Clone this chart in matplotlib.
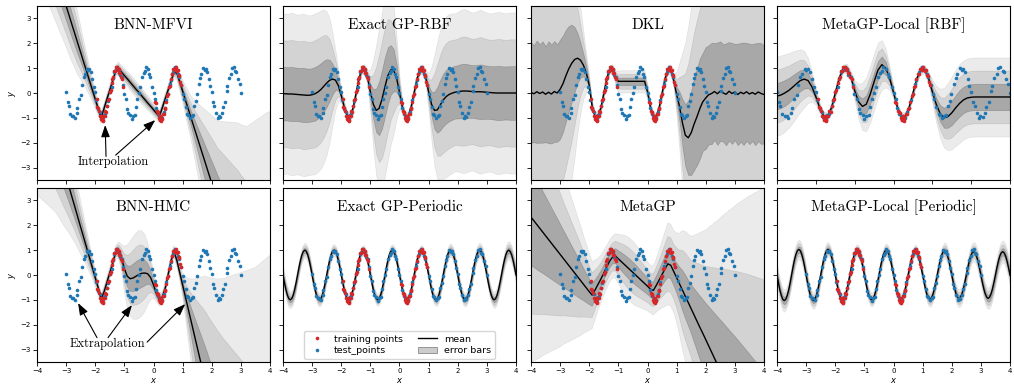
import numpy as np
import matplotlib
matplotlib.use('Agg')
import matplotlib.pyplot as plt
from matplotlib.lines import Line2D
from matplotlib.patches import Patch


train_x = [-1.95, -1.93, -1.89, -1.86, -1.84, -1.80, -1.77, -1.74, -1.72, -1.68,
           -1.65, -1.62, -1.59, -1.57, -1.53, -1.50, -1.47, -1.44, -1.41, -1.38,
           -1.35, -1.32, -1.29, -1.26, -1.23, -1.20, -1.17, -1.14, -1.11, -1.08,
           -1.05, -1.78, -1.76, -1.73,
           0.05, 0.07, 0.11, 0.14, 0.16, 0.20, 0.23, 0.26, 0.28, 0.32,
           0.35, 0.38, 0.41, 0.43, 0.47, 0.50, 0.53, 0.56, 0.59, 0.62,
           0.65, 0.68, 0.71, 0.74, 0.77, 0.80, 0.83, 0.86, 0.89, 0.92,
           0.95, 0.22, 0.24, 0.27]
train_y = [-0.26, -0.56, -0.61, -0.71, -0.92, -1.04, -0.92, -1.12, -0.93, -0.93,
           -0.73, -0.75, -0.53, -0.30, -0.24, 0.03, 0.12, 0.42, 0.56, 0.65,
           0.87, 0.88, 1.05, 1.04, 0.93, 0.97, 0.80, 0.82, 0.63, 0.55,
           0.26, -1.08, -0.95, -1.10,
           -0.35, -0.42, -0.71, -0.75, -0.80, -1.00, -1.09, -0.96, -1.05, -0.84,
           -0.84, -0.64, -0.60, -0.35, -0.11, -0.04, 0.24, 0.30, 0.57, 0.75,
           0.76, 0.98, 0.95, 0.94, 1.04, 0.87, 0.92, 0.74, 0.70, 0.43,
           0.33, -1.07, -0.93, -1.12]

test_x = [-3.00, -2.94, -2.91, -2.86, -2.79, -2.75, -2.71, -2.64, -2.61, -2.55,
          -2.49, -2.46, -2.40, -2.36, -2.29, -2.25, -2.21, -2.14, -2.11, -2.04,
          -2.00, -1.96, -1.89, -1.85, -1.81, -1.74, -1.70, -1.66, -1.59, -1.55,
          -1.51, -1.44, -1.40, -1.36, -1.29, -1.25, -1.19, -1.16, -1.09, -1.05,
          -1.01, -0.94, -0.90, -0.86, -0.79, -0.75, -0.71, -0.64, -0.60, -0.56,
          -0.49, -0.45, -0.41, -0.34, -0.30, -0.26, -0.19, -0.15, -0.11, -0.04,
          0.00, 0.06, 0.09, 0.15, 0.21, 0.25, 0.29, 0.36, 0.40, 0.44,
          0.51, 0.55, 0.59, 0.66, 0.70, 0.74, 0.81, 0.85, 0.89, 0.96,
          1.01, 1.04, 1.10, 1.16, 1.19, 1.25, 1.31, 1.34, 1.40, 1.46,
          1.49, 1.55, 1.61, 1.64, 1.70, 1.76, 1.79, 1.85, 1.91, 1.94,
          2.00, 2.06, 2.09, 2.15, 2.21, 2.24, 2.30, 2.36, 2.39, 2.45,
          2.51, 2.54, 2.60, 2.66, 2.69, 2.75, 2.81, 2.84, 2.90, 2.96,
          3.00]
test_y = [0.03, -0.36, -0.53, -0.83, -0.91, -0.93, -1.01, -0.80, -0.62, -0.26,
          -0.07, 0.33, 0.65, 0.77, 0.95, 0.94, 0.98, 0.86, 0.57, 0.26,
          0.04, -0.30, -0.66, -0.75, -0.98, -0.98, -0.90, -0.86, -0.52, -0.32,
          0.03, 0.25, 0.59, 0.85, 0.91, 1.06, 0.93, 0.74, 0.64, 0.33,
          -0.03, -0.25, -0.64, -0.80, -0.88, -1.04, -0.92, -0.87, -0.57, -0.26,
          -0.01, 0.26, 0.65, 0.81, 0.88, 1.04, 0.97, 0.78, 0.64, 0.25,
          0.01, -0.24, -0.61, -0.86, -0.91, -0.97, -1.01, -0.75, -0.60, -0.29,
          -0.04, 0.36, 0.52, 0.84, 0.95, 1.06, 0.92, 0.76, 0.63, 0.32,
          -0.06, -0.26, -0.57, -0.85, -0.88, -1.02, -0.92, -0.88, -0.53, -0.31,
          -0.05, 0.35, 0.60, 0.78, 1.01, 0.94, 0.97, 0.86, 0.58, 0.27,
          0.03, -0.38, -0.54, -0.79, -1.00, -0.94, -0.98, -0.81, -0.55, -0.37,
          0.07, 0.29, 0.60, 0.77, 1.00, 1.03, 0.89, 0.83, 0.58, 0.37,
          0.00]

grid = np.linspace(-4, 4, 81)
grid_local = np.linspace(-3, 3, 61)
grid_fine = np.linspace(-4, 4, 161)

mfvi_mean = [7.25, 6.88, 6.5, 6.13, 5.75, 5.38, 5.0, 4.63, 4.25, 3.88,
             3.5, 3.13, 2.75, 2.38, 2.0, 1.63, 1.25, 0.88, 0.5, 0.13,
             -0.25, -0.63, -1.0, -0.63, -0.25, 0.12, 0.49, 0.87, 0.98, 0.84,
             0.7, 0.57, 0.43, 0.29, 0.15, 0.02, -0.12, -0.26, -0.4, -0.53,
             -0.67, -0.81, -0.95, -0.6, -0.24, 0.11, 0.47, 0.82, 0.82, 0.45,
             0.08, -0.3, -0.67, -1.04, -1.41, -1.78, -2.15, -2.52, -2.89, -3.26,
             -3.63, -4.0, -4.37, -4.74, -5.11, -5.48, -5.85, -6.22, -6.59, -6.96,
             -7.33, -7.7, -8.07, -8.44, -8.81, -9.18, -9.55, -9.92, -10.29, -10.66,
             -11.03]
mfvi_sd = [0.85, 0.82, 0.79, 0.76, 0.73, 0.7, 0.67, 0.64, 0.61, 0.58,
           0.55, 0.53, 0.5, 0.46, 0.42, 0.36, 0.3, 0.25, 0.2, 0.16,
           0.12, 0.09, 0.08, 0.07, 0.07, 0.07, 0.07, 0.08, 0.09, 0.09,
           0.1, 0.1, 0.11, 0.11, 0.11, 0.11, 0.11, 0.1, 0.1, 0.09,
           0.09, 0.08, 0.08, 0.07, 0.07, 0.07, 0.07, 0.08, 0.1, 0.12,
           0.15, 0.2, 0.25, 0.3, 0.38, 0.46, 0.55, 0.64, 0.73, 0.82,
           0.91, 1.0, 1.08, 1.2, 1.32, 1.44, 1.56, 1.68, 1.8, 1.92,
           2.02, 2.13, 2.24, 2.39, 2.54, 2.69, 2.84, 2.99, 3.14, 3.29,
           3.43]

rbf_mean = [-0.03, -0.03, -0.04, -0.04, -0.05, -0.06, -0.07, -0.08, -0.09, -0.09,
            -0.07, -0.03, 0.04, 0.14, 0.27, 0.4, 0.51, 0.56, 0.52, 0.3,
            -0.1, -0.56, -0.9, -0.97, -0.62, -0.05, 0.55, 0.93, 0.95, 0.62,
            0.05, -0.45, -0.7, -0.62, -0.25, 0.25, 0.7, 0.93, 0.92, 0.6,
            0.02, -0.58, -0.95, -0.92, -0.55, 0.02, 0.58, 0.93, 0.95, 0.62,
            0.05, -0.45, -0.7, -0.68, -0.48, -0.28, -0.15, -0.06, -0.01, 0.03,
            0.05, 0.07, 0.08, 0.08, 0.07, 0.06, 0.05, 0.05, 0.05, 0.04,
            0.03, 0.02, 0.01, 0.0, 0.0, 0.0, 0.0, 0.0, 0.0, 0.0,
            0.0]
rbf_sd = [1.08, 1.07, 1.08, 1.09, 1.08, 1.07, 1.08, 1.09, 1.08, 1.07,
          1.07, 1.08, 1.07, 1.06, 1.03, 0.96, 0.83, 0.62, 0.4, 0.21,
          0.1, 0.07, 0.06, 0.06, 0.06, 0.06, 0.06, 0.06, 0.07, 0.1,
          0.3, 0.6, 0.88, 1.08, 1.18, 1.2, 1.14, 1.0, 0.85, 0.55,
          0.22, 0.08, 0.06, 0.06, 0.06, 0.06, 0.06, 0.06, 0.07, 0.1,
          0.25, 0.5, 0.75, 0.92, 1.02, 1.06, 1.08, 1.08, 1.07, 1.06,
          1.07, 1.09, 1.1, 1.09, 1.07, 1.06, 1.07, 1.09, 1.1, 1.08,
          1.07, 1.06, 1.07, 1.08, 1.09, 1.08, 1.07, 1.07, 1.08, 1.08,
          1.08]

dkl_mean = [0.02, -0.03, 0.05, -0.02, 0.04, -0.05, 0.03, -0.04, 0.06, 0.0,
            0.15, 0.38, 0.7, 0.98, 1.2, 1.35, 1.4, 1.32, 1.12, 0.8,
            0.3, -0.55, -0.95, -0.95, -0.58, 0.0, 0.58, 0.95, 0.95, 0.62,
            0.47, 0.47, 0.47, 0.47, 0.47, 0.47, 0.47, 0.47, 0.47, 0.47,
            0.05, -0.58, -0.95, -0.95, -0.58, 0.0, 0.58, 0.95, 0.93, 0.5,
            -0.05, -0.55, -1.2, -1.7, -1.8, -1.6, -1.25, -0.95, -0.62, -0.35,
            -0.2, -0.07, -0.02, 0.06, -0.03, 0.08, 0.0, -0.05, 0.07, -0.02,
            0.04, -0.06, 0.03, -0.03, 0.05, -0.04, 0.02, -0.05, 0.04, -0.02,
            -0.06]
dkl_sd = [2.02, 1.95, 2.06, 1.98, 2.04, 1.93, 2.05, 1.99, 2.03, 1.96,
          2.0, 1.94, 1.85, 1.72, 1.55, 1.3, 1.0, 0.7, 0.45, 0.25,
          0.12, 0.07, 0.06, 0.06, 0.06, 0.06, 0.06, 0.06, 0.07, 0.1,
          0.14, 0.15, 0.15, 0.15, 0.15, 0.15, 0.15, 0.15, 0.15, 0.15,
          0.1, 0.07, 0.06, 0.06, 0.06, 0.06, 0.06, 0.06, 0.07, 0.1,
          0.3, 0.6, 0.95, 1.25, 1.5, 1.7, 1.85, 1.95, 2.02, 1.97,
          2.05, 1.99, 2.04, 1.95, 2.06, 2.0, 1.96, 2.05, 1.98, 2.03,
          1.94, 2.04, 1.99, 2.06, 1.97, 2.02, 1.95, 2.05, 1.98, 2.03,
          1.97]

local_rbf_mean = [-0.13, -0.08, 0.0, 0.1, 0.23, 0.37, 0.5, 0.56, 0.5, 0.25,
                  -0.15, -0.6, -0.93, -0.95, -0.6, 0.0, 0.6, 0.97, 1.0, 0.65,
                  0.1, -0.35, -0.54, -0.45, -0.05, 0.45, 0.92, 1.14, 1.0, 0.6,
                  0.02, -0.58, -0.95, -0.95, -0.58, 0.0, 0.58, 0.95, 0.95, 0.6,
                  0.05, -0.45, -0.82, -1.0, -0.95, -0.8, -0.6, -0.42, -0.28, -0.2,
                  -0.17, -0.16, -0.16, -0.16, -0.16, -0.16, -0.16, -0.16, -0.16, -0.16,
                  -0.16]
local_rbf_sd = [0.53, 0.53, 0.52, 0.5, 0.48, 0.45, 0.42, 0.38, 0.3, 0.2,
                0.11, 0.07, 0.06, 0.06, 0.06, 0.06, 0.06, 0.06, 0.06, 0.08,
                0.14, 0.24, 0.32, 0.36, 0.38, 0.38, 0.37, 0.33, 0.26, 0.16,
                0.09, 0.06, 0.06, 0.06, 0.06, 0.06, 0.06, 0.06, 0.06, 0.09,
                0.16, 0.25, 0.33, 0.4, 0.45, 0.49, 0.51, 0.53, 0.53, 0.53,
                0.53, 0.53, 0.53, 0.53, 0.53, 0.53, 0.53, 0.53, 0.53, 0.53,
                0.53]

hmc_mean = [8.01, 7.61, 7.2, 6.8, 6.39, 5.98, 5.58, 5.17, 4.77, 4.36,
            3.95, 3.55, 3.14, 2.74, 2.33, 1.92, 1.52, 1.11, 0.71, 0.3,
            -0.11, -0.51, -0.97, -0.69, -0.3, 0.09, 0.48, 0.9, 1.0, 0.7,
            0.25, -0.05, -0.15, -0.12, -0.05, 0.02, 0.07, 0.08, 0.05, -0.1,
            -0.4, -0.75, -0.98, -0.9, -0.55, 0.0, 0.55, 0.95, 0.6, 0.1,
            -0.4, -0.9, -1.4, -1.9, -2.4, -2.9, -3.4, -3.9, -4.4, -4.9,
            -5.4, -5.9, -6.4, -6.9, -7.4, -7.9, -8.4, -8.9, -9.4, -9.9,
            -10.4, -10.9, -11.4, -11.9, -12.4, -12.9, -13.4, -13.9, -14.4, -14.9,
            -15.4]
hmc_sd = [1.6, 1.5, 1.4, 1.3, 1.2, 1.1, 1.0, 0.92, 0.85, 0.78,
          0.7, 0.62, 0.55, 0.48, 0.42, 0.36, 0.3, 0.25, 0.2, 0.15,
          0.12, 0.09, 0.08, 0.08, 0.08, 0.08, 0.08, 0.09, 0.11, 0.18,
          0.3, 0.42, 0.5, 0.55, 0.58, 0.59, 0.57, 0.52, 0.42, 0.3,
          0.18, 0.11, 0.09, 0.08, 0.08, 0.08, 0.08, 0.08, 0.09, 0.1,
          0.16, 0.28, 0.42, 0.58, 0.75, 0.92, 1.1, 1.28, 1.45, 1.6,
          1.76, 1.92, 2.08, 2.25, 2.42, 2.6, 2.78, 2.96, 3.14, 3.32,
          3.5, 3.68, 3.86, 4.04, 4.22, 4.4, 4.6, 4.8, 5.0, 5.2,
          5.4]

periodic_mean = [0.0, -0.31, -0.59, -0.81, -0.95, -1.0, -0.95, -0.81, -0.59, -0.31,
                 0.0, 0.31, 0.59, 0.81, 0.95, 1.0, 0.95, 0.81, 0.59, 0.31,
                 0.0, -0.31, -0.59, -0.81, -0.95, -1.0, -0.95, -0.81, -0.59, -0.31,
                 0.0, 0.31, 0.59, 0.81, 0.95, 1.0, 0.95, 0.81, 0.59, 0.31,
                 0.0, -0.31, -0.59, -0.81, -0.95, -1.0, -0.95, -0.81, -0.59, -0.31,
                 0.0, 0.31, 0.59, 0.81, 0.95, 1.0, 0.95, 0.81, 0.59, 0.31,
                 0.0, -0.31, -0.59, -0.81, -0.95, -1.0, -0.95, -0.81, -0.59, -0.31,
                 0.0, 0.31, 0.59, 0.81, 0.95, 1.0, 0.95, 0.81, 0.59, 0.31,
                 0.0, -0.31, -0.59, -0.81, -0.95, -1.0, -0.95, -0.81, -0.59, -0.31,
                 0.0, 0.31, 0.59, 0.81, 0.95, 1.0, 0.95, 0.81, 0.59, 0.31,
                 0.0, -0.31, -0.59, -0.81, -0.95, -1.0, -0.95, -0.81, -0.59, -0.31,
                 0.0, 0.31, 0.59, 0.81, 0.95, 1.0, 0.95, 0.81, 0.59, 0.31,
                 0.0, -0.31, -0.59, -0.81, -0.95, -1.0, -0.95, -0.81, -0.59, -0.31,
                 0.0, 0.31, 0.59, 0.81, 0.95, 1.0, 0.95, 0.81, 0.59, 0.31,
                 0.0, -0.31, -0.59, -0.81, -0.95, -1.0, -0.95, -0.81, -0.59, -0.31,
                 0.0, 0.31, 0.59, 0.81, 0.95, 1.0, 0.95, 0.81, 0.59, 0.31,
                 0.0]
periodic_sd = [0.12, 0.12, 0.12, 0.12, 0.12, 0.11, 0.11, 0.11, 0.11, 0.11,
               0.11, 0.11, 0.1, 0.1, 0.1, 0.1, 0.1, 0.1, 0.1, 0.1,
               0.1, 0.09, 0.09, 0.09, 0.09, 0.09, 0.09, 0.09, 0.09, 0.09,
               0.09, 0.09, 0.09, 0.09, 0.09, 0.08, 0.08, 0.08, 0.08, 0.08,
               0.08, 0.07, 0.07, 0.07, 0.07, 0.07, 0.07, 0.07, 0.07, 0.07,
               0.07, 0.07, 0.07, 0.07, 0.07, 0.07, 0.07, 0.07, 0.07, 0.08,
               0.08, 0.08, 0.08, 0.08, 0.08, 0.08, 0.08, 0.08, 0.08, 0.08,
               0.08, 0.08, 0.08, 0.08, 0.08, 0.08, 0.08, 0.08, 0.08, 0.08,
               0.08, 0.07, 0.07, 0.07, 0.07, 0.07, 0.07, 0.07, 0.07, 0.07,
               0.07, 0.07, 0.07, 0.07, 0.07, 0.07, 0.07, 0.07, 0.07, 0.08,
               0.08, 0.08, 0.08, 0.08, 0.08, 0.08, 0.09, 0.09, 0.09, 0.09,
               0.09, 0.09, 0.09, 0.09, 0.09, 0.09, 0.09, 0.09, 0.09, 0.09,
               0.09, 0.09, 0.09, 0.09, 0.09, 0.09, 0.09, 0.09, 0.09, 0.09,
               0.1, 0.1, 0.1, 0.1, 0.1, 0.1, 0.1, 0.1, 0.1, 0.1,
               0.1, 0.1, 0.1, 0.1, 0.1, 0.11, 0.11, 0.11, 0.11, 0.11,
               0.11, 0.11, 0.11, 0.12, 0.12, 0.12, 0.12, 0.12, 0.12, 0.12,
               0.12]

metagp_mean = [2.33, 2.18, 2.03, 1.88, 1.73, 1.58, 1.43, 1.28, 1.13, 0.98,
               0.83, 0.68, 0.53, 0.38, 0.23, 0.08, -0.07, -0.22, -0.37, -0.52,
               -0.67, -0.81, -0.6, -0.38, -0.16, 0.08, 0.33, 0.56, 0.72, 0.76,
               0.65, 0.54, 0.43, 0.32, 0.21, 0.1, -0.01, -0.12, -0.23, -0.34,
               -0.45, -0.57, -0.62, -0.42, -0.2, 0.02, 0.24, 0.45, 0.39, 0.14,
               -0.11, -0.36, -0.61, -0.86, -1.11, -1.36, -1.61, -1.86, -2.11, -2.35,
               -2.6, -2.85, -3.1, -3.35, -3.6, -3.85, -4.1, -4.35, -4.6, -4.85,
               -5.1, -5.35, -5.6, -5.85, -6.1, -6.35, -6.6, -6.85, -7.1, -7.35,
               -7.6]
metagp_sd = [1.95, 1.88, 1.81, 1.74, 1.66, 1.59, 1.52, 1.45, 1.38, 1.31,
             1.24, 1.16, 1.09, 1.02, 0.95, 0.88, 0.81, 0.74, 0.66, 0.59,
             0.52, 0.45, 0.4, 0.35, 0.32, 0.3, 0.29, 0.28, 0.28, 0.3,
             0.33, 0.36, 0.39, 0.41, 0.42, 0.42, 0.41, 0.39, 0.37, 0.35,
             0.33, 0.32, 0.33, 0.36, 0.4, 0.45, 0.5, 0.55, 0.55, 0.55,
             0.6, 0.68, 0.8, 0.87, 0.92, 0.97, 1.07, 1.17, 1.27, 1.37,
             1.47, 1.59, 1.7, 1.82, 1.93, 2.05, 2.17, 2.28, 2.4, 2.51,
             2.63, 2.74, 2.85, 2.96, 3.07, 3.18, 3.28, 3.39, 3.49, 3.6,
             3.7]

local_per_mean = [0.0, -0.32, -0.61, -0.83, -0.98, -1.03, -0.98, -0.83, -0.61, -0.32,
                  0.0, 0.32, 0.61, 0.83, 0.98, 1.03, 0.98, 0.83, 0.61, 0.32,
                  0.0, -0.32, -0.61, -0.83, -0.98, -1.03, -0.98, -0.83, -0.61, -0.32,
                  0.0, 0.32, 0.61, 0.83, 0.98, 1.03, 0.98, 0.83, 0.61, 0.32,
                  0.0, -0.31, -0.59, -0.81, -0.95, -1.0, -0.95, -0.81, -0.59, -0.31,
                  0.0, 0.31, 0.59, 0.81, 0.95, 1.0, 0.95, 0.81, 0.59, 0.31,
                  0.0, -0.31, -0.59, -0.81, -0.95, -1.0, -0.95, -0.81, -0.59, -0.31,
                  0.0, 0.31, 0.59, 0.81, 0.95, 1.0, 0.95, 0.81, 0.59, 0.31,
                  0.0, -0.3, -0.58, -0.79, -0.93, -0.98, -0.93, -0.79, -0.58, -0.3,
                  0.0, 0.3, 0.58, 0.79, 0.93, 0.98, 0.93, 0.79, 0.58, 0.3,
                  0.0, -0.3, -0.58, -0.79, -0.93, -0.98, -0.93, -0.79, -0.58, -0.3,
                  0.0, 0.3, 0.58, 0.79, 0.93, 0.98, 0.93, 0.79, 0.58, 0.3,
                  0.0, -0.29, -0.55, -0.76, -0.89, -0.94, -0.89, -0.76, -0.55, -0.29,
                  0.0, 0.29, 0.55, 0.76, 0.89, 0.94, 0.89, 0.76, 0.55, 0.29,
                  0.0, -0.29, -0.55, -0.76, -0.89, -0.94, -0.89, -0.76, -0.55, -0.29,
                  0.0, 0.29, 0.55, 0.76, 0.89, 0.94, 0.89, 0.76, 0.55, 0.29,
                  0.0]
local_per_sd = [0.15, 0.15, 0.15, 0.15, 0.15, 0.15, 0.14, 0.14, 0.14, 0.14,
                0.14, 0.14, 0.14, 0.13, 0.13, 0.13, 0.13, 0.13, 0.13, 0.12,
                0.12, 0.12, 0.12, 0.12, 0.11, 0.11, 0.11, 0.11, 0.11, 0.1,
                0.1, 0.1, 0.1, 0.1, 0.1, 0.1, 0.09, 0.09, 0.09, 0.09,
                0.09, 0.08, 0.08, 0.08, 0.08, 0.08, 0.08, 0.08, 0.08, 0.08,
                0.08, 0.08, 0.08, 0.08, 0.08, 0.08, 0.08, 0.08, 0.09, 0.09,
                0.09, 0.09, 0.09, 0.09, 0.09, 0.09, 0.09, 0.09, 0.09, 0.09,
                0.09, 0.09, 0.09, 0.09, 0.09, 0.09, 0.09, 0.09, 0.09, 0.09,
                0.09, 0.08, 0.08, 0.08, 0.08, 0.08, 0.08, 0.08, 0.08, 0.08,
                0.08, 0.08, 0.08, 0.08, 0.08, 0.08, 0.08, 0.08, 0.09, 0.09,
                0.09, 0.09, 0.1, 0.1, 0.1, 0.1, 0.1, 0.1, 0.1, 0.1,
                0.1, 0.1, 0.1, 0.1, 0.1, 0.11, 0.11, 0.11, 0.11, 0.11,
                0.11, 0.11, 0.11, 0.12, 0.12, 0.12, 0.12, 0.12, 0.12, 0.12,
                0.13, 0.13, 0.13, 0.13, 0.13, 0.13, 0.13, 0.13, 0.14, 0.14,
                0.14, 0.14, 0.14, 0.14, 0.14, 0.14, 0.15, 0.15, 0.15, 0.15,
                0.15, 0.15, 0.15, 0.15, 0.15, 0.15, 0.15, 0.15, 0.15, 0.15,
                0.15]

panels = [
    ('BNN-MFVI', grid, mfvi_mean, mfvi_sd, 4),
    ('Exact GP-RBF', grid, rbf_mean, rbf_sd, 4),
    ('DKL', grid, dkl_mean, dkl_sd, 4),
    ('MetaGP-Local [RBF]', grid_local, local_rbf_mean, local_rbf_sd, 3),
    ('BNN-HMC', grid, hmc_mean, hmc_sd, 4),
    ('Exact GP-Periodic', grid_fine, periodic_mean, periodic_sd, 4),
    ('MetaGP', grid, metagp_mean, metagp_sd, 4),
    ('MetaGP-Local [Periodic]', grid_fine, local_per_mean, local_per_sd, 4),
]

RED = '#d62728'
BLUE = '#1f77b4'
SERIF = 'cmr10'
MS = 2.6
ARROW = dict(arrowstyle='-|>,head_length=0.6,head_width=0.22', color='k',
             lw=0.8, mutation_scale=12, shrinkA=0, shrinkB=0)


def draw_panel(ax, title, gx, mu, sd, lim):
    mu = np.array(mu)
    sd = np.array(sd)
    for k, a in zip((3, 2, 1), (0.08, 0.1, 0.2)):
        ax.fill_between(gx, mu - k * sd, mu + k * sd, color='k', alpha=a, lw=0.5)
    ax.plot(gx, mu, color='k', lw=1.0)
    ax.plot(test_x, test_y, 'o', color=BLUE, ms=MS, mew=0)
    ax.plot(train_x, train_y, 'o', color=RED, ms=MS, mew=0)
    ax.set_xlim(-lim, lim)
    ax.set_ylim(-3.5, 3.5)
    ax.set_xticks(range(-lim, lim + 1))
    ax.set_yticks(range(-3, 4))
    ax.tick_params(labelsize=5, length=3, width=0.6, pad=1.5)
    for s in ax.spines.values():
        s.set_linewidth(0.8)
    ax.text(0.5, 0.89, title, transform=ax.transAxes, ha='center', va='center',
            fontsize=11, family=SERIF)


fig = plt.figure(figsize=(10.14, 3.85), dpi=100)
lefts = [37, 283, 531, 777]
axes = []
for i, (title, gx, mu, sd, lim) in enumerate(panels):
    row, col = divmod(i, 4)
    bottom = (385 - 180 - row * 182) / 385
    ax = fig.add_axes([lefts[col] / 1014, bottom, 233 / 1014, 174 / 385])
    draw_panel(ax, title, gx, mu, sd, lim)
    if col > 0:
        ax.tick_params(labelleft=False)
    else:
        ax.set_ylabel('$y$', fontsize=6, labelpad=2)
    if row == 0:
        ax.tick_params(labelbottom=False)
    else:
        ax.set_xlabel('$x$', fontsize=6, labelpad=1)
    axes.append(ax)

# annotations
ax = axes[0]
ax.text(-1.39, -2.78, 'Interpolation', ha='center', va='center', fontsize=9, family=SERIF)
ax.annotate('', xy=(-1.66, -1.29), xytext=(-1.63, -2.55), arrowprops=ARROW)
ax.annotate('', xy=(0.06, -1.09), xytext=(-1.3, -2.5), arrowprops=ARROW)

ax = axes[4]
ax.text(-1.59, -2.78, 'Extrapolation', ha='center', va='center', fontsize=9, family=SERIF)
ax.annotate('', xy=(-2.59, -1.13), xytext=(-1.94, -2.52), arrowprops=ARROW)
ax.annotate('', xy=(-0.74, -1.21), xytext=(-1.56, -2.52), arrowprops=ARROW)
ax.annotate('', xy=(1.09, -1.17), xytext=(-0.22, -2.7), arrowprops=ARROW)

handles = [Line2D([], [], ls='none', marker='o', ms=MS, mew=0, color=RED),
           Line2D([], [], ls='none', marker='o', ms=MS, mew=0, color=BLUE),
           Line2D([], [], color='k', lw=1.0),
           Patch(facecolor=(0, 0, 0, 0.2), edgecolor=(0, 0, 0, 0.4), lw=0.6)]
labels = ['training points', 'test_points', 'mean', 'error bars']
axes[5].legend(handles, labels, loc='lower center', ncol=2, fontsize=6.8,
               borderaxespad=0.3, columnspacing=1.6, handletextpad=0.8,
               borderpad=0.4, labelspacing=0.3)

fig.savefig('out.png', dpi=100)
